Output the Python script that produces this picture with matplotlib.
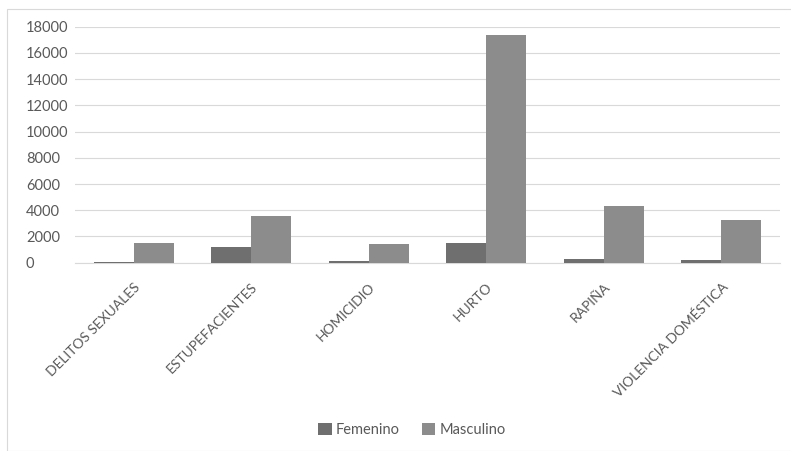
import matplotlib
matplotlib.use("Agg")
import matplotlib.pyplot as plt
import numpy as np
from matplotlib.patches import Rectangle

categories = ["DELITOS SEXUALES", "ESTUPEFACIENTES", "HOMICIDIO", "HURTO", "RAPIÑA", "VIOLENCIA DOMÉSTICA"]
femenino = [50, 1200, 100, 1530, 260, 180]
masculino = [1480, 3570, 1400, 17370, 4330, 3240]
series_names = ["Femenino", "Masculino"]
yticks = [0, 2000, 4000, 6000, 8000, 10000, 12000, 14000, 16000, 18000]

plt.rcParams['font.family'] = ['Lato', 'DejaVu Sans']
txt = '#595959'

fig = plt.figure(figsize=(7.91, 4.51), dpi=100)
fig.patches.append(Rectangle((7/791, 0), 1, 1 - 9/451, transform=fig.transFigure,
                             fill=False, edgecolor='#d9d9d9', lw=0.8))
ax = fig.add_axes([75/791, 1 - 262.7/451, (780 - 75)/791, (262.7 - 26.7)/451])

x = np.arange(len(categories))
w = 0.34
ax.bar(x - w/2, femenino, w, color='#6f6f6f', label=series_names[0], zorder=3)
ax.bar(x + w/2, masculino, w, color='#8c8c8c', label=series_names[1], zorder=3)

ax.set_xlim(-0.5, len(categories) - 0.5)
ax.set_ylim(0, 18000)
ax.set_yticks(yticks)
ax.set_yticklabels([str(v) for v in yticks], fontsize=10.5, color=txt, ha='left')
ax.yaxis.grid(True, color='#d9d9d9', lw=0.8, zorder=0)
ax.tick_params(axis='y', length=0, pad=(75 - 26) * 0.72)
ax.set_xticks(x)
ax.set_xticklabels(categories, rotation=45, ha='right', rotation_mode='anchor',
                   fontsize=10, color=txt)
ax.tick_params(axis='x', length=0, pad=13)
for s in ['top', 'right', 'left']:
    ax.spines[s].set_visible(False)
ax.spines['bottom'].set_color('#d9d9d9')
ax.spines['bottom'].set_linewidth(0.8)

leg = fig.legend(loc='center', bbox_to_anchor=(412/791, 1 - 430/451), ncol=2, frameon=False,
                 fontsize=10.5, handlelength=0.9, handleheight=0.9, handletextpad=0.3,
                 columnspacing=1.5)
for t in leg.get_texts():
    t.set_color(txt)

fig.savefig("out.png", dpi=100, facecolor='white')
